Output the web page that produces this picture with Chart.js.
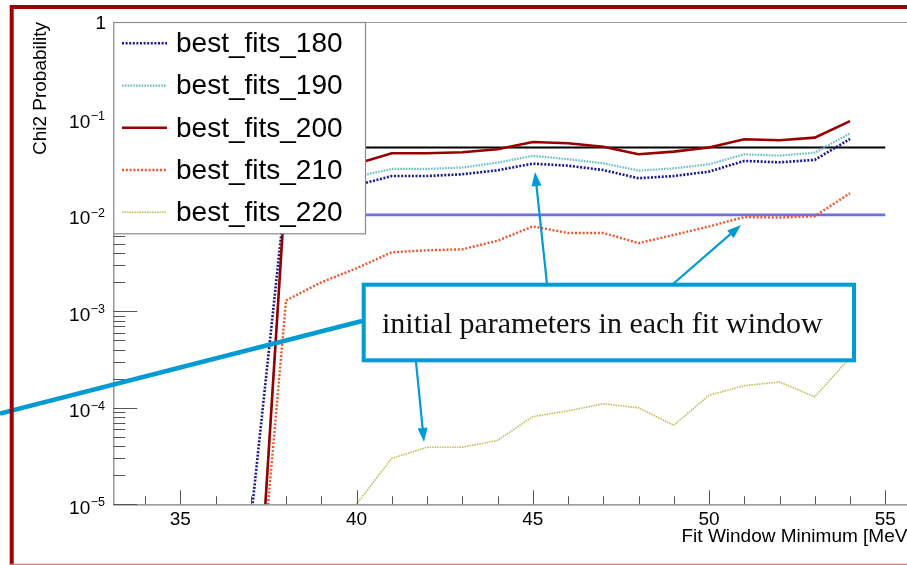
<!DOCTYPE html>
<html>
<head>
<meta charset="utf-8">
<script src="https://cdn.jsdelivr.net/npm/chart.js@4.4.1/dist/chart.umd.min.js"></script>
<style>
  html, body { margin: 0; padding: 0; overflow: hidden; background: #fff; width: 907px; height: 565px; }
  #wrap { position: absolute; left: 0; top: 0; width: 940px; height: 565px; }
</style>
</head>
<body>
<div id="wrap"><canvas id="c" width="940" height="565"></canvas></div>
<script>
// Fit window minimum [MeV]
const fitWindowMin = [37, 38, 39, 40, 41, 42, 43, 44, 45, 46, 47, 48, 49, 50, 51, 52, 53, 54];

// Chi2 probability of the best fit for each window
const bestFits180 = [6.7e-6, 0.0184, 0.019, 0.0203, 0.0253, 0.0253, 0.0264, 0.029, 0.034, 0.0324, 0.0292, 0.024, 0.0253, 0.0281, 0.0363, 0.0351, 0.0372, 0.0613];
const bestFits190 = [5e-8, 0.022, 0.024, 0.0249, 0.030, 0.030, 0.031, 0.0348, 0.041, 0.0378, 0.0343, 0.0288, 0.0304, 0.0335, 0.0425, 0.0412, 0.0442, 0.070];
const bestFits200 = [4e-8, 0.0245, 0.030, 0.034, 0.0436, 0.0436, 0.0446, 0.048, 0.057, 0.0553, 0.051, 0.0425, 0.0453, 0.0499, 0.0608, 0.0594, 0.0633, 0.094];
const bestFits210 = [9e-8, 0.0013, 0.0020, 0.0028, 0.0041, 0.0043, 0.0044, 0.0054, 0.0076, 0.0065, 0.0065, 0.0051, 0.0062, 0.0076, 0.0095, 0.0094, 0.0097, 0.0168];
const bestFits220 = [null, null, null, 1.0e-5, 3.0e-5, 3.9e-5, 3.9e-5, 4.6e-5, 8.1e-5, 9.3e-5, 1.1e-4, 1.0e-4, 6.6e-5, 1.35e-4, 1.7e-4, 1.85e-4, 1.3e-4, 3.3e-4];

const seriesLabels = ['best_fits_180', 'best_fits_190', 'best_fits_200', 'best_fits_210', 'best_fits_220'];

// Reference probability levels and the x span they are drawn over
const thresholdValues = [0.05, 0.01];
const thresholdSpan = [33.1, 55];

// Axis ranges and labelled ticks
const xRange = [33.1, 56];
const yRange = [1e-5, 1];
const xTickLabels = ['35', '40', '45', '50', '55'];
const yTickExponents = [0, -1, -2, -3, -4, -5];

const calloutText = 'initial parameters in each fit window';

const seriesStyles = [
  { color: 'rgb(25,25,135)',  width: 2.6, dash: [2, 1.6] },
  { color: 'rgb(105,190,195)', width: 2.2, dash: [1.6, 1.2] },
  { color: 'rgb(150,0,0)',    width: 2.6, dash: [] },
  { color: 'rgb(235,85,45)',  width: 2.4, dash: [2, 1.8] },
  { color: 'rgb(190,190,90)', width: 1.6, dash: [1.5, 1] }
];
const thresholdStyles = [
  { color: '#000', width: 2.2 },
  { color: 'rgb(110,110,230)', width: 2.6 }
];

const seriesValues = [bestFits180, bestFits190, bestFits200, bestFits210, bestFits220];

const datasets = [];
seriesValues.forEach((vals, i) => {
  datasets.push({
    label: seriesLabels[i],
    data: fitWindowMin.map((x, k) => ({ x: x, y: vals[k] })),
    borderColor: seriesStyles[i].color,
    borderWidth: seriesStyles[i].width,
    borderDash: seriesStyles[i].dash,
    borderCapStyle: 'butt',
    pointRadius: 0,
    fill: false,
    tension: 0,
    spanGaps: false,
    order: 10 - i,
    inLegend: true
  });
});
thresholdValues.forEach((v, i) => {
  datasets.push({
    label: 'level_' + v,
    data: thresholdSpan.map(x => ({ x: x, y: v })),
    borderColor: thresholdStyles[i].color,
    borderWidth: thresholdStyles[i].width,
    pointRadius: 0,
    fill: false,
    order: 20,
    inLegend: false
  });
});

const CH = 565;
const AREA_LEFT = 113.3, AREA_TOP = 22, AREA_BOTTOM = 504.3, AREA_RIGHT = 920.5;

function drawArrow(ctx, x0, y0, x1, y1, color) {
  const ang = Math.atan2(y1 - y0, x1 - x0);
  const len = 14, half = 5;
  const bx = x1 - len * Math.cos(ang), by = y1 - len * Math.sin(ang);
  ctx.strokeStyle = color;
  ctx.lineWidth = 2.2;
  ctx.beginPath();
  ctx.moveTo(x0, y0);
  ctx.lineTo(bx, by);
  ctx.stroke();
  ctx.fillStyle = color;
  ctx.beginPath();
  ctx.moveTo(x1, y1);
  ctx.lineTo(bx + half * Math.sin(ang), by - half * Math.cos(ang));
  ctx.lineTo(bx - half * Math.sin(ang), by + half * Math.cos(ang));
  ctx.closePath();
  ctx.fill();
}

const rootStyle = {
  id: 'rootStyle',
  afterDatasetsDraw(chart) {
    const ctx = chart.ctx;
    const xs = chart.scales.x, ys = chart.scales.y;
    const area = chart.chartArea;
    ctx.save();

    // frame
    ctx.strokeStyle = '#9a9a9a';
    ctx.lineWidth = 1.2;
    ctx.beginPath();
    ctx.moveTo(area.left, area.top + 0.5); ctx.lineTo(area.right, area.top + 0.5);
    ctx.stroke();
    ctx.strokeStyle = '#808080';
    ctx.beginPath();
    ctx.moveTo(area.left + 0.5, area.top); ctx.lineTo(area.left + 0.5, area.bottom);
    ctx.moveTo(area.left, area.bottom + 0.5); ctx.lineTo(area.right, area.bottom + 0.5);
    ctx.stroke();

    // x ticks: major every 5, minor every 1
    ctx.strokeStyle = '#555';
    ctx.lineWidth = 1;
    ctx.beginPath();
    for (let v = Math.ceil(xRange[0]); v <= xRange[1]; v++) {
      const px = Math.round(xs.getPixelForValue(v)) + 0.5;
      const len = (v % 5 === 0) ? 14 : 8;
      ctx.moveTo(px, area.bottom);
      ctx.lineTo(px, area.bottom - len);
    }
    // y ticks: decades and 2..9 minors
    for (let e = -5; e <= 0; e++) {
      const base = Math.pow(10, e);
      const py = Math.round(ys.getPixelForValue(base)) + 0.5;
      ctx.moveTo(area.left, py); ctx.lineTo(area.left + 24, py);
      if (e < 0) {
        for (let k = 2; k <= 9; k++) {
          const pm = Math.round(ys.getPixelForValue(k * base)) + 0.5;
          ctx.moveTo(area.left, pm); ctx.lineTo(area.left + 12, pm);
        }
      }
    }
    ctx.stroke();

    // x tick labels
    ctx.fillStyle = '#000';
    ctx.font = '19px "Liberation Sans", Arial, sans-serif';
    ctx.textAlign = 'center';
    ctx.textBaseline = 'alphabetic';
    xTickLabels.forEach(t => {
      ctx.fillText(t, xs.getPixelForValue(parseFloat(t)), 525);
    });

    // y tick labels with raised exponents
    yTickExponents.forEach(e => {
      const py = ys.getPixelForValue(Math.pow(10, e));
      ctx.textAlign = 'right';
      if (e === 0) {
        ctx.font = '19px "Liberation Sans", Arial, sans-serif';
        ctx.fillText('1', 106, py + 7);
      } else {
        const exp = '\u2212' + Math.abs(e);
        ctx.font = '12.5px "Liberation Sans", Arial, sans-serif';
        const ew = ctx.measureText(exp).width;
        ctx.fillText(exp, 105, py + 2);
        ctx.font = '19px "Liberation Sans", Arial, sans-serif';
        ctx.fillText('10', 105 - ew - 0.5, py + 9.4);
      }
    });

    // axis titles
    ctx.font = '19px "Liberation Sans", Arial, sans-serif';
    ctx.textAlign = 'left';
    ctx.fillText('Fit Window Minimum [MeV]', 681.5, 542);
    ctx.save();
    ctx.translate(46, 22);
    ctx.rotate(-Math.PI / 2);
    ctx.textAlign = 'right';
    ctx.fillText('Chi2 Probability', 0, 0);
    ctx.restore();

    // legend box
    const lg = { x: area.left, y: area.top, w: 365 - area.left, h: 233.3 - area.top };
    ctx.fillStyle = '#fff';
    ctx.fillRect(lg.x, lg.y, lg.w, lg.h);
    ctx.strokeStyle = '#8a8a8a';
    ctx.lineWidth = 1.2;
    ctx.strokeRect(lg.x + 0.5, lg.y + 0.5, lg.w, lg.h);
    const legendSets = chart.data.datasets.filter(d => d.inLegend);
    legendSets.forEach((d, i) => {
      const cy = 43.3 + 42.25 * i;
      ctx.strokeStyle = d.borderColor;
      ctx.lineWidth = d.borderWidth;
      ctx.setLineDash(d.borderDash || []);
      ctx.beginPath();
      ctx.moveTo(122, cy); ctx.lineTo(167, cy);
      ctx.stroke();
      ctx.setLineDash([]);
      ctx.fillStyle = '#000';
      ctx.font = '28px "Liberation Sans", Arial, sans-serif';
      ctx.textAlign = 'left';
      ctx.textBaseline = 'middle';
      ctx.fillText(d.label, 176, cy + 1);
    });
    ctx.textBaseline = 'alphabetic';

    // callout with arrows
    const blue = 'rgb(0,155,210)';
    ctx.strokeStyle = blue;
    ctx.lineWidth = 4.5;
    ctx.beginPath();
    ctx.moveTo(362, 321);
    ctx.lineTo(0, 413.5);
    ctx.stroke();
    drawArrow(ctx, 547, 284, 535, 172, blue);
    drawArrow(ctx, 673, 284, 741, 225, blue);
    drawArrow(ctx, 416, 362, 424, 442, blue);
    ctx.fillStyle = '#fff';
    ctx.fillRect(363.7, 284.7, 490.3, 75.6);
    ctx.strokeStyle = blue;
    ctx.lineWidth = 4;
    ctx.strokeRect(363.7, 284.7, 490.3, 75.6);
    ctx.fillStyle = '#111';
    ctx.font = '30px "Liberation Serif", "DejaVu Serif", serif';
    ctx.textAlign = 'left';
    ctx.fillText(calloutText, 382, 333);

    // outer red frame
    ctx.strokeStyle = 'rgb(160,0,0)';
    ctx.lineWidth = 4;
    ctx.beginPath();
    ctx.moveTo(940, 7); ctx.lineTo(11.7, 7); ctx.lineTo(11.7, 566);
    ctx.stroke();
    ctx.strokeStyle = 'rgb(215,120,120)';
    ctx.lineWidth = 1.5;
    ctx.beginPath();
    ctx.moveTo(10, 564.5); ctx.lineTo(940, 564.5);
    ctx.stroke();

    ctx.restore();
  }
};

new Chart(document.getElementById('c'), {
  type: 'line',
  data: { datasets: datasets },
  options: {
    responsive: false,
    animation: false,
    devicePixelRatio: 1,
    parsing: true,
    layout: { padding: { left: 0, top: AREA_TOP, right: 940 - AREA_RIGHT, bottom: 0 } },
    plugins: { legend: { display: false }, tooltip: { enabled: false } },
    scales: {
      x: {
        type: 'linear', min: xRange[0], max: xRange[1],
        ticks: { display: false }, grid: { display: false }, border: { display: false },
        afterFit(s) { s.height = CH - AREA_BOTTOM; }
      },
      y: {
        type: 'logarithmic', min: yRange[0], max: yRange[1],
        ticks: { display: false }, grid: { display: false }, border: { display: false },
        afterFit(s) { s.width = AREA_LEFT; }
      }
    }
  },
  plugins: [rootStyle]
});
</script>
</body>
</html>
